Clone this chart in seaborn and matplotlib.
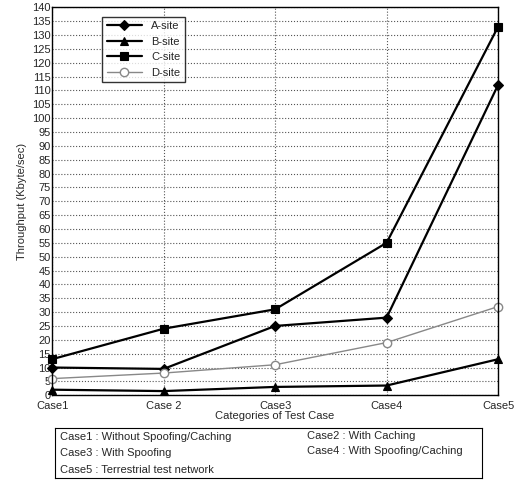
import matplotlib
matplotlib.use("Agg")
import matplotlib.pyplot as plt
import seaborn as sns
import pandas as pd
import numpy as np

cases = ["Case1", "Case 2", "Case3", "Case4", "Case5"]
a_site = [10, 9.5, 25, 28, 112]
b_site = [2, 1.5, 3, 3.5, 13]
c_site = [13, 24, 31, 55, 133]
d_site = [6, 8, 11, 19, 32]
series_names = ["A-site", "B-site", "C-site", "D-site"]
yticks = list(range(0, 141, 5))

sns.set_theme(style="white")
plt.rcParams['font.family'] = ['Liberation Sans', 'DejaVu Sans']

rows = []
for name, vals in zip(series_names, [a_site, b_site, c_site, d_site]):
    for i, v in enumerate(vals):
        rows.append({"case": i, "site": name, "value": v})
df = pd.DataFrame(rows)

fig = plt.figure(figsize=(5.26, 4.82), dpi=100)
ax = fig.add_axes([0.099, 0.180, 0.848, 0.805])

palette = {"A-site": "black", "B-site": "black", "C-site": "black", "D-site": "#888888"}
markers = {"A-site": "D", "B-site": "^", "C-site": "s", "D-site": "o"}
sns.lineplot(data=df, x="case", y="value", hue="site", style="site",
             palette=palette, markers=markers, dashes=False, ax=ax,
             linewidth=1.6, markersize=6, legend=False)
for line, name in zip(ax.lines, series_names):
    line.set_clip_on(False)
    line.set_label(name)
    if name == "D-site":
        line.set_markerfacecolor("white")
        line.set_markeredgecolor("#888888")
        line.set_markeredgewidth(1.0)
        line.set_linewidth(1.0)
    else:
        line.set_markeredgecolor("black")
        line.set_markerfacecolor("black")
        line.set_markeredgewidth(0.8)
    if name == "A-site":
        line.set_markersize(5)

ax.set_xlim(0, 4)
ax.set_ylim(0, 140)
ax.set_xticks(range(5))
ax.set_xticklabels(cases, fontsize=8)
ax.set_yticks(yticks)
ax.set_yticklabels([str(t) for t in yticks], fontsize=8)
ax.tick_params(axis="both", length=3, direction="in", pad=1)
ax.tick_params(axis="x", pad=4)
ax.grid(True, linestyle=":", color="#555555", linewidth=0.8)
for s in ax.spines.values():
    s.set_color("black")
    s.set_linewidth(1.0)
ax.set_xlabel("Categories of Test Case", fontsize=8, labelpad=0)
ax.set_ylabel("Throughput (Kbyte/sec)", fontsize=8, labelpad=4)

leg = ax.legend(loc="upper left", bbox_to_anchor=(0.1, 0.99), fontsize=8,
                frameon=True, fancybox=False, edgecolor="black", handlelength=3.2,
                borderpad=0.4, labelspacing=0.5)
leg.get_frame().set_linewidth(1.0)

# Case description box
box_ax = fig.add_axes([0.105, 0.008, 0.812, 0.104])
box_ax.set_xticks([]); box_ax.set_yticks([])
for s in box_ax.spines.values():
    s.set_color("black"); s.set_linewidth(0.8)
box_ax.text(0.01, 0.82, "Case1 : Without Spoofing/Caching", fontsize=8, va="center")
box_ax.text(0.01, 0.50, "Case3 : With Spoofing", fontsize=8, va="center")
box_ax.text(0.01, 0.17, "Case5 : Terrestrial test network", fontsize=8, va="center")
box_ax.text(0.59, 0.85, "Case2 : With Caching", fontsize=8, va="center")
box_ax.text(0.59, 0.55, "Case4 : With Spoofing/Caching", fontsize=8, va="center")

fig.savefig("out.png", dpi=100)
